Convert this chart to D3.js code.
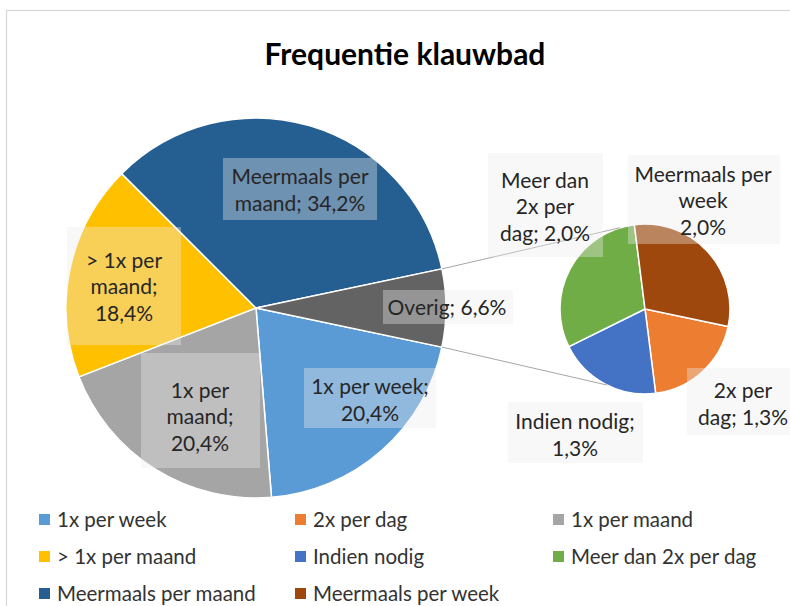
<!DOCTYPE html>
<html>
<head>
<meta charset="utf-8">
<script src="https://cdn.jsdelivr.net/npm/d3@7"></script>
<style>
  body { margin: 0; background: #fff; }
  svg { display: block; font-family: Lato, "Open Sans", sans-serif; }
</style>
</head>
<body>
<svg id="chart" width="790" height="606"></svg>
<script>
// data, in the order of the legend
var names = ["1x per week", "2x per dag", "1x per maand", "> 1x per maand", "Indien nodig",
             "Meer dan 2x per dag", "Meermaals per maand", "Meermaals per week"];
var values = [20.4, 1.3, 20.4, 18.4, 1.3, 2.0, 34.2, 2.0];
var colors = ["#5b9bd5", "#ed7d31", "#a5a5a5", "#ffc000", "#4472c4",
              "#70ad47", "#255e91", "#9e480e"];
// which points go into the small pie
var inSecond = [false, true, false, false, true, true, false, true];
var otherName = "Overig";
var otherColor = "#636363";

// label boxes (placed by hand in the original), keyed by name
var labelLayout = {
    "Meermaals per maand": { box: [223, 158, 377, 220], t: [300, 190], words: [2] },
    "> 1x per maand":      { box: [67, 227, 181, 345],  t: [124, 287], words: [3, 4] },
    "1x per maand":        { box: [141, 353, 260, 468], t: [200, 417], words: [2, 3] },
    "1x per week":         { box: [304, 368, 436, 428], t: [370, 400], words: [3] },
    "Overig":              { box: [383, 290, 513, 324], t: [447, 308], words: [] },
    "Meer dan 2x per dag": { box: [488, 153, 603, 257], t: [545, 207], words: [2, 4] },
    "Meermaals per week":  { box: [628, 155, 780, 244], t: [703, 201], words: [2, 3], sep: " " },
    "2x per dag":          { box: [687, 368, 792, 435], t: [743, 404], words: [2] },
    "Indien nodig":        { box: [508, 402, 643, 463], t: [575, 435], words: [2] }
};

var svg = d3.select("#chart");
var width = 790, height = 606;

// chart border
svg.append("rect")
    .attr("x", 6.5).attr("y", 10.5)
    .attr("width", 800).attr("height", 620)
    .attr("fill", "#fff")
    .attr("stroke", "#d9d9d9")
    .attr("stroke-width", 1.3);

svg.append("text")
    .text("Frequentie klauwbad")
    .attr("x", 405).attr("y", 65)
    .attr("text-anchor", "middle")
    .attr("font-weight", "bold")
    .attr("font-size", 30)
    .attr("fill", "#000");

var rad = Math.PI / 180;

// main pie: points not in the small pie + "Overig", which is centred on the right
var mainItems = [], secondItems = [], otherTotal = 0;
names.forEach(function (n, i) {
    var d = { name: n, value: values[i], color: colors[i] };
    if (inSecond[i]) { secondItems.push(d); otherTotal += values[i]; }
    else mainItems.push(d);
});
otherTotal = Math.round(otherTotal * 10) / 10;
mainItems.push({ name: otherName, value: otherTotal, color: otherColor });

var main = { cx: 256, cy: 308, r: 190 };
var small = { cx: 645, cy: 309, r: 85 };

var total = d3.sum(mainItems, d => d.value);
var start = 90 * rad + (otherTotal / total) * Math.PI;

var mainPie = d3.pie().sort(null).value(d => d.value)
    .startAngle(start).endAngle(start + 2 * Math.PI);
var smallPie = d3.pie().sort(null).value(d => d.value)
    .startAngle(start).endAngle(start + 2 * Math.PI);

var mainArc = d3.arc().innerRadius(0).outerRadius(main.r);
var smallArc = d3.arc().innerRadius(0).outerRadius(small.r);

var gMain = svg.append("g").attr("transform", "translate(" + main.cx + "," + main.cy + ")");
var mainArcs = mainPie(mainItems);
gMain.selectAll("path").data(mainArcs).enter().append("path")
    .attr("d", mainArc)
    .attr("fill", d => d.data.color)
    .attr("stroke", "#fff")
    .attr("stroke-width", 1.5);

var gSmall = svg.append("g").attr("transform", "translate(" + small.cx + "," + small.cy + ")");
gSmall.selectAll("path").data(smallPie(secondItems)).enter().append("path")
    .attr("d", smallArc)
    .attr("fill", d => d.data.color)
    .attr("stroke", "#fff")
    .attr("stroke-width", 1.5);

// connector lines from the edges of "Overig" to the small pie
var other = mainArcs[mainArcs.length - 1];
var connEnds = [-17, 206.5];
[other.startAngle, other.endAngle].forEach(function (a, i) {
    var b = connEnds[i] * rad;
    svg.append("line")
        .attr("x1", main.cx + main.r * Math.sin(a))
        .attr("y1", main.cy - main.r * Math.cos(a))
        .attr("x2", small.cx + small.r * Math.sin(b))
        .attr("y2", small.cy - small.r * Math.cos(b))
        .attr("stroke", "#a6a6a6")
        .attr("stroke-width", 1);
});

// data labels
function fmt(v) { return v.toFixed(1).replace(".", ",") + "%"; }
var allItems = mainItems.concat(secondItems);
var gLab = svg.append("g");
allItems.forEach(function (d) {
    var L = labelLayout[d.name];
    var words = (d.name + (L.sep || "; ") + fmt(d.value)).split(" ");
    var cuts = [0].concat(L.words, [words.length]);
    var lines = [];
    for (var k = 0; k < cuts.length - 1; k++) lines.push(words.slice(cuts[k], cuts[k + 1]).join(" "));

    gLab.append("rect")
        .attr("x", L.box[0]).attr("y", L.box[1])
        .attr("width", L.box[2] - L.box[0]).attr("height", L.box[3] - L.box[1])
        .attr("fill", "#ececec")
        .attr("fill-opacity", 0.37);

    var lh = 26.5;
    var t = gLab.append("text")
        .attr("text-anchor", "middle")
        .attr("font-size", 21)
        .attr("fill", "#262626");
    lines.forEach(function (s, k) {
        t.append("tspan")
            .attr("x", L.t[0])
            .attr("y", L.t[1] + (k - (lines.length - 1) / 2) * lh)
            .attr("dy", "0.35em")
            .text(s);
    });
});

// legend, 3 columns
var colX = [39, 295, 553];
var rowY = [520, 557, 594];
var leg = svg.append("g").selectAll("g").data(names).enter().append("g")
    .attr("transform", (d, i) => "translate(" + colX[i % 3] + "," + rowY[Math.floor(i / 3)] + ")");
leg.append("rect")
    .attr("x", 0).attr("y", -6)
    .attr("width", 11).attr("height", 11)
    .attr("fill", (d, i) => colors[i]);
leg.append("text")
    .attr("x", 18).attr("y", 0)
    .attr("dy", "0.35em")
    .attr("font-size", 20.5)
    .attr("fill", "#333")
    .text(d => d);
</script>
</body>
</html>
